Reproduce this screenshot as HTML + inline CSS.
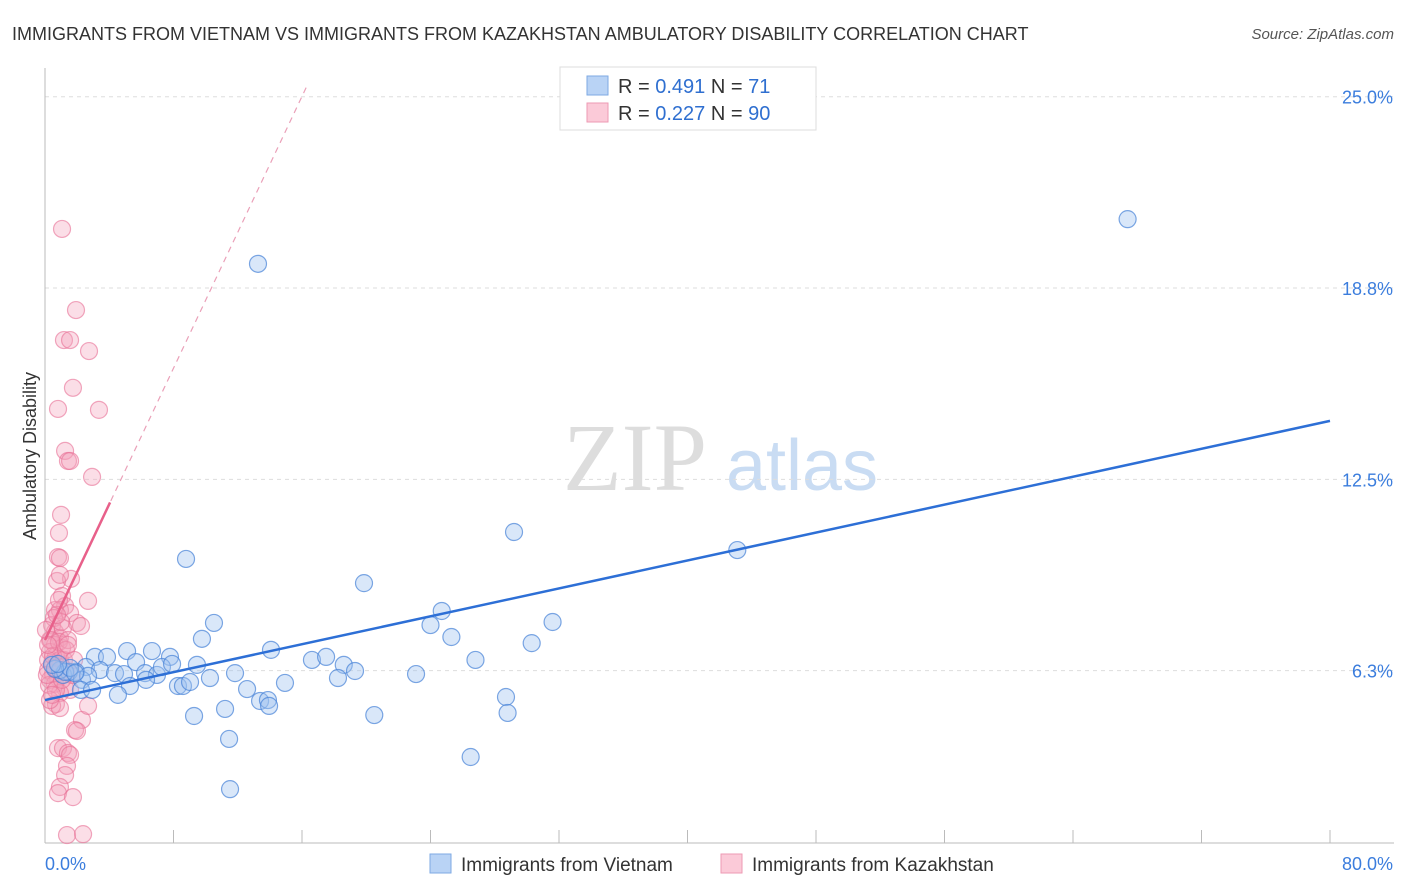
<!DOCTYPE html>
<html><head><meta charset="utf-8"><style>
body{margin:0;background:#fff;font-family:"Liberation Sans",sans-serif}
#wrap{position:relative;width:1406px;height:892px;overflow:hidden}
</style></head><body>
<div id="wrap">
<svg id="svg" width="1406" height="892" xmlns="http://www.w3.org/2000/svg">
<text x="12" y="40" font-size="18" fill="#333">IMMIGRANTS FROM VIETNAM VS IMMIGRANTS FROM KAZAKHSTAN AMBULATORY DISABILITY CORRELATION CHART</text>
<text x="1394" y="39" font-size="15" fill="#555" font-style="italic" text-anchor="end">Source: ZipAtlas.com</text>
<text x="36" y="456" font-size="18" fill="#333" text-anchor="middle" transform="rotate(-90 36 456)">Ambulatory Disability</text>
<g><text x="635" y="490" font-size="96" fill="#ddd" font-family="Liberation Serif,serif" text-anchor="middle">ZIP</text><text x="802" y="490" font-size="72" fill="#c9dcf3" text-anchor="middle">atlas</text></g>
<g id="grid"></g><g id="axes"></g><g id="pts"></g><g id="trend"></g>
<g>
<rect x="560" y="67" width="256" height="63" fill="#fff" stroke="#ddd"/>
<rect x="587" y="76" width="21" height="19" fill="#b9d3f5" stroke="#7ea9e3"/>
<rect x="587" y="103" width="21" height="19" fill="#fbcad8" stroke="#ee9ab3"/>
<text x="618" y="93" font-size="20" fill="#333">R = <tspan fill="#2f6fd0">0.491</tspan>   N =  <tspan fill="#2f6fd0">71</tspan></text>
<text x="618" y="120" font-size="20" fill="#333">R = <tspan fill="#2f6fd0">0.227</tspan>   N = <tspan fill="#2f6fd0">90</tspan></text>
</g>
<g>
<rect x="430" y="854" width="21" height="19" fill="#b9d3f5" stroke="#7ea9e3"/>
<text x="461" y="871" font-size="19" fill="#333">Immigrants from Vietnam</text>
<rect x="721" y="854" width="21" height="19" fill="#fbcad8" stroke="#ee9ab3"/>
<text x="752" y="871" font-size="19" fill="#333">Immigrants from Kazakhstan</text>
</g>
</svg></div>
<script>
const vietX=[67.4,13.26,29.2,43.1,8.78,19.86,24.7,10.52,24.0,31.6,25.3,30.3,6.66,5.11,14.07,9.77,3.11,3.86,5.67,7.78,9.46,16.62,17.5,18.6,19.3,26.8,11.83,2.55,3.42,4.36,4.92,6.23,6.97,7.28,7.91,1.93,1.49,1.12,0.93,2.30,2.68,5.29,6.29,8.28,8.59,9.03,10.27,12.58,14.94,18.24,23.1,2.24,4.54,13.39,13.88,13.95,28.7,28.8,9.28,11.21,20.5,11.46,26.5,11.52,1.25,1.56,1.87,0.62,2.93,0.44,0.81];
const vietY=[21.0,19.54,10.78,10.19,9.90,9.11,8.20,7.81,7.74,7.84,7.35,7.15,6.89,6.89,6.93,7.29,6.70,6.70,6.53,6.70,6.44,6.60,6.70,6.44,6.24,6.60,6.17,6.37,6.27,6.17,6.14,6.17,6.11,6.37,6.47,6.21,6.21,6.11,6.27,5.95,6.08,5.75,5.95,5.75,5.75,5.88,6.01,5.65,5.85,6.01,6.14,5.62,5.46,5.26,5.29,5.10,5.39,4.87,4.77,5.00,4.80,4.02,3.43,2.38,6.21,6.34,6.17,6.31,5.62,6.44,6.47];
const kazX=[1.06,1.93,1.18,1.56,2.74,1.74,0.81,3.36,1.25,1.43,1.56,2.93,1.00,0.87,0.81,0.93,1.62,0.75,0.93,2.68,1.06,1.25,0.62,0.93,1.56,1.99,2.24,0.44,0.62,0.93,0.31,0.62,1.06,0.31,0.68,0.93,0.44,0.75,1.06,0.19,0.50,0.81,0.31,0.62,1.25,1.56,0.93,2.30,0.68,0.44,0.93,2.68,1.87,1.99,0.81,1.12,1.43,1.56,1.37,1.25,0.93,0.81,1.74,1.37,2.37,0.19,0.37,0.56,1.12,0.25,1.31,0.50,0.87,0.12,1.68,1.18,0.31,0.68,1.00,1.43,0.44,0.75,0.06,1.31,1.81,0.19,1.06,0.62,1.43,0.87];
const kazY=[20.68,18.03,17.05,17.05,16.69,15.49,14.80,14.77,13.43,13.10,13.10,12.58,11.34,10.75,9.96,9.93,9.25,9.18,9.38,8.53,8.69,8.36,8.23,8.23,8.13,7.81,7.71,7.74,7.51,7.32,7.25,7.09,6.99,6.86,6.73,6.60,6.50,6.40,6.37,6.27,6.14,6.01,5.95,5.82,5.68,5.62,5.52,4.64,5.16,5.10,5.03,5.10,4.31,4.28,3.72,3.72,3.56,3.50,3.14,2.84,2.45,2.25,2.12,0.88,0.91,6.60,7.25,7.97,7.64,5.78,6.21,6.73,7.19,6.11,6.11,6.60,5.29,5.62,7.84,7.25,5.46,8.07,7.58,6.93,6.60,7.09,5.95,6.34,7.09,8.56];
const yTicks=[6.3,12.5,18.8,25.0];
const yTickLabels=["6.3%","12.5%","18.8%","25.0%"];
const xTickLabels=["0.0%","80.0%"];
const vietTrend=[5.29,14.41];
const kazTrend=[7.25,1.11];
const NS="http://www.w3.org/2000/svg";
const xs=v=>45+v/80*1285;
const ys=v=>862-v/25*765.3;
function mk(p,tag,a){const e=document.createElementNS(NS,tag);for(const k in a)e.setAttribute(k,a[k]);p.appendChild(e);return e;}
const grid=document.getElementById('grid'),axes=document.getElementById('axes'),pts=document.getElementById('pts'),tr=document.getElementById('trend');
yTicks.forEach((t,i)=>{const y=ys(t===6.3?6.25:t===18.8?18.75:t);
 const l=mk(grid,'line',{x1:45,x2:1394,y1:y,y2:y,stroke:'#ddd','stroke-dasharray':'4,4'});
 
 
 const tx=mk(grid,'text',{x:1393,y:y+7,'font-size':18,fill:'#3b7ddd','text-anchor':'end'});tx.textContent=yTickLabels[i];
 
 
});
const ya=mk(axes,'line',{x1:45,x2:45,y1:68,y2:843,stroke:'#bbb'});


const xa=mk(axes,'line',{x1:45,x2:1394,y1:843,y2:843,stroke:'#bbb'});


for(let i=0;i<=10;i++){const x=xs(i*8);const t=mk(axes,'line',{x1:x,x2:x,y1:830,y2:843,stroke:'#bbb'});
 
 }
[[0,'start',45],[80,'end',1393]].forEach((d,i)=>{const t=mk(axes,'text',{x:d[2],y:870,'font-size':18,fill:'#3b7ddd','text-anchor':d[1]});t.textContent=xTickLabels[i];
 
 });
kazX.forEach((v,i)=>{const c=mk(pts,'circle',{cx:xs(v),cy:ys(kazY[i]),r:8.5,fill:'rgba(244,160,186,0.35)',stroke:'rgba(232,110,148,0.6)','stroke-width':1.2});
 
 });
vietX.forEach((v,i)=>{const c=mk(pts,'circle',{cx:xs(v),cy:ys(vietY[i]),r:8.5,fill:'rgba(160,196,240,0.4)',stroke:'rgba(70,130,215,0.7)','stroke-width':1.2});
 
 });
const bl=mk(tr,'line',{x1:xs(0),y1:ys(vietTrend[0]),x2:xs(80),y2:ys(vietTrend[1]),stroke:'#2d6fd6','stroke-width':2.5});


const kEnd=(25.4-kazTrend[0])/kazTrend[1];
const pd=mk(tr,'line',{x1:xs(0),y1:ys(kazTrend[0]),x2:xs(kEnd),y2:ys(25.4),stroke:'#eaa0b8','stroke-width':1.2,'stroke-dasharray':'6,5'});


const ps=mk(tr,'line',{x1:xs(0),y1:ys(kazTrend[0]),x2:xs(4.05),y2:ys(kazTrend[0]+4.05*kazTrend[1]),stroke:'#e8608a','stroke-width':2.5});


</script>
</body></html>
